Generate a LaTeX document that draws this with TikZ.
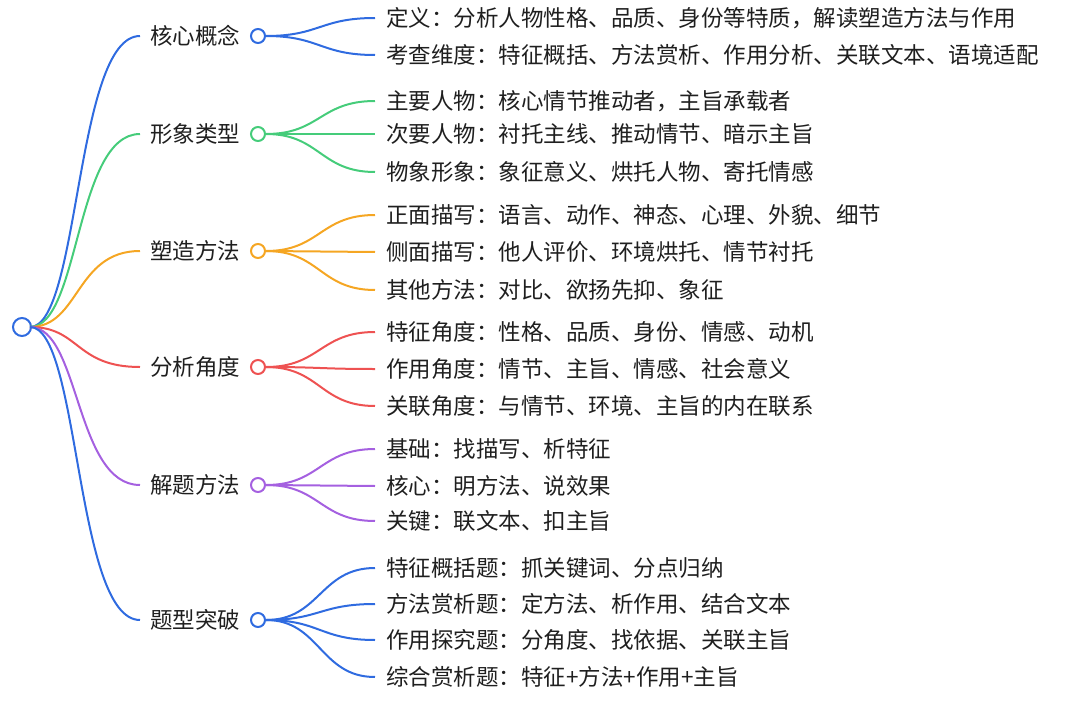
\documentclass[tikz,border=0pt]{standalone}
\usepackage{fontspec}
\setmainfont{Noto Sans CJK SC}
\begin{document}
\begin{tikzpicture}[x=1pt,y=-1pt,
  lbl/.style={anchor=west,inner sep=0pt,font=\fontsize{22.5}{25}\selectfont,text=black!88},
  dot/.style={circle,draw,fill=white,line width=2pt,inner sep=0pt,minimum size=14pt},
  edge/.style={line width=2pt}]
\useasboundingbox (0,0) rectangle (1080,704);
\definecolor{cb}{HTML}{2F6BE0}
\definecolor{cg}{HTML}{45CC7A}
\definecolor{co}{HTML}{F5A623}
\definecolor{cr}{HTML}{EE5252}
\definecolor{cp}{HTML}{A560E0}
\node[dot,draw=cb,minimum size=18pt] (root) at (22,327) {};
\coordinate (rs) at (30,327);
\foreach \i/\t/\y/\c in {1/核心概念/36/cb,2/形象类型/134/cg,3/塑造方法/251/co,4/分析角度/367/cr,5/解题方法/485/cp,6/题型突破/620/cb}{
  \coordinate (e\i) at (140,\y);
  \node[lbl] (b\i) at (150,\y) {\t};
  \node[dot,draw=\c] (c\i) at (258,\y) {};
  \draw[edge,\c] (rs) .. controls (80,327) and (75,\y) .. (e\i);
}
\foreach \p/\py/\t/\y/\c in {
 1/36/定义：分析人物性格、品质、身份等特质，解读塑造方法与作用/18/cb,
 1/36/考查维度：特征概括、方法赏析、作用分析、关联文本、语境适配/55/cb,
 2/134/主要人物：核心情节推动者，主旨承载者/101/cg,
 2/134/次要人物：衬托主线、推动情节、暗示主旨/134/cg,
 2/134/物象形象：象征意义、烘托人物、寄托情感/172/cg,
 3/251/正面描写：语言、动作、神态、心理、外貌、细节/215/co,
 3/251/侧面描写：他人评价、环境烘托、情节衬托/252/co,
 3/251/其他方法：对比、欲扬先抑、象征/290/co,
 4/367/特征角度：性格、品质、身份、情感、动机/332/cr,
 4/367/作用角度：情节、主旨、情感、社会意义/369/cr,
 4/367/关联角度：与情节、环境、主旨的内在联系/406/cr,
 5/485/基础：找描写、析特征/449/cp,
 5/485/核心：明方法、说效果/486/cp,
 5/485/关键：联文本、扣主旨/521/cp,
 6/620/特征概括题：抓关键词、分点归纳/568/cb,
 6/620/方法赏析题：定方法、析作用、结合文本/604/cb,
 6/620/作用探究题：分角度、找依据、关联主旨/640/cb,
 6/620/综合赏析题：特征+方法+作用+主旨/677/cb}{
  \node[lbl] (t) at (386,\y) {\t};
  \coordinate (le) at (375,\y);
  \draw[edge,\c] (c\p.east) .. controls (320,\py) and (320,\y) .. (le);
}
\end{tikzpicture}
\end{document}
